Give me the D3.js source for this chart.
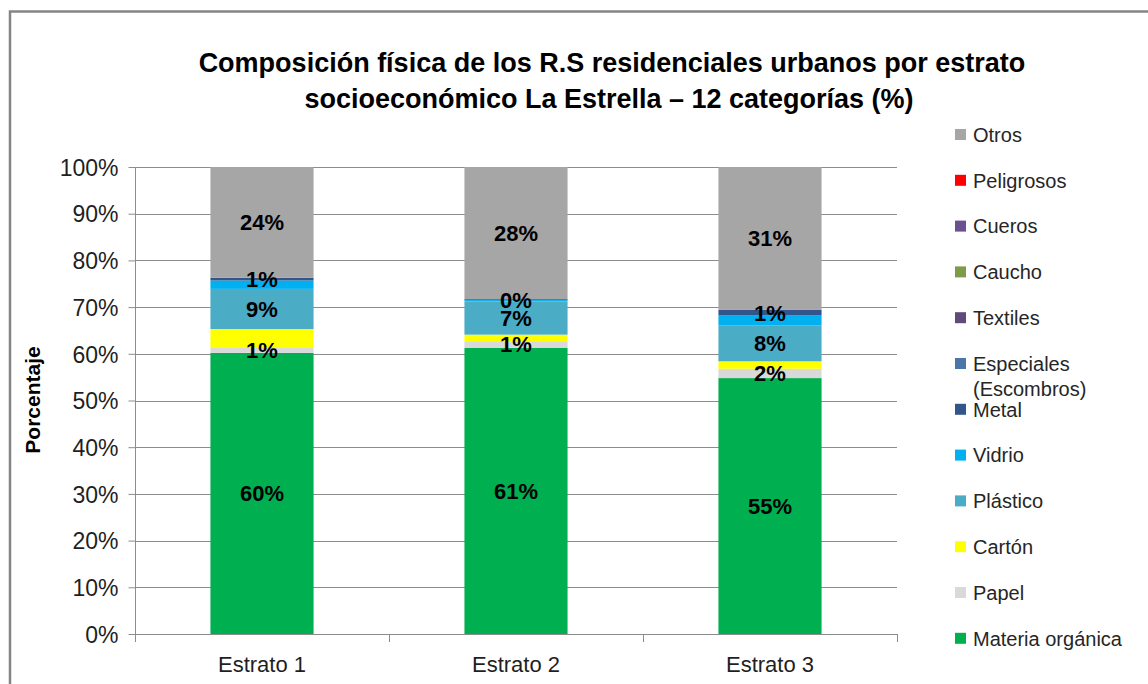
<!DOCTYPE html>
<html>
<head>
<meta charset="utf-8">
<script src="https://cdn.jsdelivr.net/npm/d3@7"></script>
<style>
  html, body { margin: 0; padding: 0; background: #fff; }
  svg { display: block; font-family: 'Liberation Sans', Arial, sans-serif; }
</style>
</head>
<body>
<div id="chart"></div>
<script>
// categorias (de abajo hacia arriba en la pila)
const categories = ['Estrato 1', 'Estrato 2', 'Estrato 3'];
const materials = ['Materia orgánica', 'Papel', 'Cartón', 'Plástico', 'Vidrio', 'Metal',
    'Especiales (Escombros)', 'Textiles', 'Caucho', 'Cueros', 'Peligrosos', 'Otros'];
const colors = ['#00B050', '#D9D9D9', '#FFFF00', '#4BACC6', '#00B0F0', '#34558B',
    '#4A76A8', '#604A7B', '#7F9A48', '#6A5290', '#FF0000', '#A6A6A6'];

// porcentajes por estrato, mismo orden que materials
const estrato1 = [60.2, 1.2, 3.9, 8.6, 1.8, 0.6, 0, 0, 0, 0, 0, 23.7];
const estrato2 = [61.3, 1.4, 1.4, 7.1, 0.3, 0.2, 0, 0, 0, 0, 0, 28.3];
const estrato3 = [54.8, 2.0, 1.6, 7.7, 2.1, 1.2, 0, 0, 0, 0, 0, 30.6];

// segmentos con etiqueta visible
const labeledKeys = ['Materia orgánica', 'Papel', 'Plástico', 'Metal', 'Otros'];
const yTicks = [0, 0.1, 0.2, 0.3, 0.4, 0.5, 0.6, 0.7, 0.8, 0.9, 1];

const width = 1148, height = 684;
const rows = [estrato1, estrato2, estrato3].map((vals, i) => {
    const row = {cat: categories[i]};
    materials.forEach((m, j) => row[m] = vals[j] / 100);
    return row;
});

const svg = d3.select('#chart').append('svg')
    .attr('width', width)
    .attr('height', height);

// marco
svg.append('rect')
    .attr('x', 10).attr('y', 11.5)
    .attr('width', width).attr('height', height)
    .attr('fill', 'none')
    .attr('stroke', '#858585')
    .attr('stroke-width', 2.5);

const plot = {left: 135, right: 897, top: 167, bottom: 634};

const x = d3.scaleBand()
    .domain(categories)
    .range([plot.left, plot.right])
    .paddingInner(0.594)
    .paddingOuter(0.297);

const y = d3.scaleLinear()
    .domain([0, 1])
    .range([plot.bottom, plot.top]);

const color = d3.scaleOrdinal().domain(materials).range(colors);

// lineas de cuadricula
svg.append('g').selectAll('line').data(yTicks).join('line')
    .attr('x1', plot.left).attr('x2', plot.right)
    .attr('y1', d => Math.round(y(d)) + 0.5).attr('y2', d => Math.round(y(d)) + 0.5)
    .attr('stroke', '#8c8c8c')
    .attr('stroke-width', 1);

// eje y
const yAxisG = svg.append('g')
    .attr('transform', `translate(${plot.left + 0.5},0)`)
    .call(d3.axisLeft(y).tickValues(yTicks).tickFormat(d3.format('.0%')).tickSize(7).tickPadding(10));
yAxisG.select('.domain').attr('stroke', '#8c8c8c').attr('d', `M0,${plot.top}V${plot.bottom + 8}`);
yAxisG.selectAll('.tick line').attr('stroke', '#8c8c8c');
yAxisG.selectAll('.tick text')
    .attr('fill', '#1f1f1f')
    .style('font-size', '23px')
    .attr('dy', '0.36em');

// eje x: marcas en los limites de las categorias
const step = x.step();
const bounds = d3.range(categories.length + 1).map(i => plot.left + i * step);
svg.append('g').selectAll('line').data(bounds).join('line')
    .attr('x1', d => Math.round(d) + 0.5).attr('x2', d => Math.round(d) + 0.5)
    .attr('y1', plot.bottom).attr('y2', plot.bottom + 8)
    .attr('stroke', '#8c8c8c');

svg.append('g').selectAll('text').data(categories).join('text')
    .attr('x', d => x(d) + x.bandwidth() / 2)
    .attr('y', 672)
    .attr('text-anchor', 'middle')
    .attr('fill', '#1f1f1f')
    .style('font-size', '22px')
    .text(d => d);

// barras apiladas
const series = d3.stack().keys(materials)(rows);

const gSeries = svg.append('g').selectAll('g').data(series).join('g')
    .attr('fill', d => color(d.key));

gSeries.selectAll('rect').data(d => d).join('rect')
    .attr('x', d => x(d.data.cat))
    .attr('y', d => y(d[1]))
    .attr('width', x.bandwidth())
    .attr('height', d => y(d[0]) - y(d[1]));

// etiquetas de datos
const labelData = series.filter(s => labeledKeys.includes(s.key))
    .flatMap(s => s.map(d => ({key: s.key, d: d})));

svg.append('g').selectAll('text').data(labelData).join('text')
    .attr('x', o => x(o.d.data.cat) + x.bandwidth() / 2)
    .attr('y', o => (y(o.d[0]) + y(o.d[1])) / 2)
    .attr('dy', '0.36em')
    .attr('text-anchor', 'middle')
    .attr('fill', '#000')
    .style('font-size', '22px')
    .style('font-weight', 'bold')
    .text(o => Math.round((o.d[1] - o.d[0]) * 100) + '%');

// titulo
const title = svg.append('text')
    .attr('text-anchor', 'middle')
    .style('font-size', '27px')
    .style('font-weight', 'bold')
    .attr('fill', '#000');
title.append('tspan').attr('x', 612).attr('y', 72)
    .text('Composición física de los R.S residenciales urbanos por estrato');
title.append('tspan').attr('x', 609).attr('y', 108)
    .text('socioeconómico La Estrella – 12 categorías (%)');

// titulo eje y
svg.append('text')
    .attr('transform', 'translate(40,400) rotate(-90)')
    .attr('text-anchor', 'middle')
    .style('font-size', '21px')
    .style('font-weight', 'bold')
    .attr('fill', '#000')
    .text('Porcentaje');

// leyenda (orden inverso)
const legendItems = materials.slice().reverse();
const legend = svg.append('g').selectAll('g').data(legendItems).join('g')
    .attr('transform', (d, i) => `translate(955,${134.5 + i * 45.8})`);

legend.append('rect')
    .attr('x', 0).attr('y', -5.5)
    .attr('width', 11).attr('height', 11)
    .attr('fill', d => color(d));

legend.append('text')
    .attr('x', 18)
    .attr('fill', '#262626')
    .style('font-size', '20px')
    .each(function (d) {
        const parts = d.split(' (');
        const t = d3.select(this);
        t.append('tspan').attr('x', 18).attr('y', 0).attr('dy', '0.36em').text(parts[0]);
        if (parts.length > 1) {
            t.append('tspan').attr('x', 18).attr('y', 25).attr('dy', '0.36em').text('(' + parts[1]);
        }
    });
</script>
</body>
</html>
